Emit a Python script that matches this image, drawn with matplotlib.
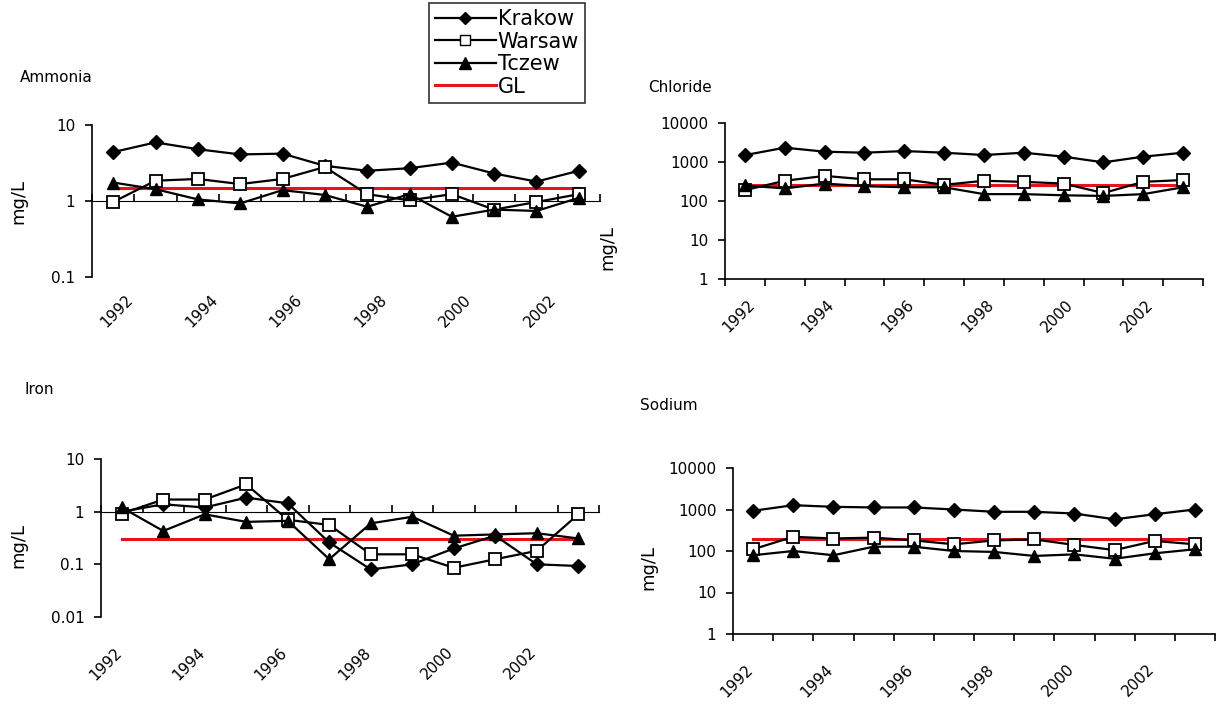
import math
import matplotlib
matplotlib.use("Agg")
import matplotlib.pyplot as plt
import matplotlib.transforms as mtransforms
from matplotlib.ticker import FixedLocator, FuncFormatter, NullFormatter
from matplotlib.lines import Line2D

years = list(range(1992, 2004))
label_years = [1992, 1994, 1996, 1998, 2000, 2002]

# mg/L values
ammonia_krakow = [4.4, 5.9, 4.8, 4.1, 4.2, 2.9, 2.5, 2.7, 3.2, 2.3, 1.8, 2.5]
ammonia_warsaw = [0.97, 1.85, 1.95, 1.67, 1.95, 2.8, 1.23, 1.02, 1.23, 0.77, 0.97, 1.23]
ammonia_tczew = [1.75, 1.43, 1.05, 0.93, 1.39, 1.2, 0.84, 1.23, 0.62, 0.77, 0.74, 1.1]
ammonia_gl = 1.5

chloride_krakow = [1500, 2330, 1840, 1730, 1910, 1730, 1510, 1730, 1370, 980, 1370, 1730]
chloride_warsaw = [190, 330, 440, 360, 360, 260, 330, 310, 280, 160, 310, 345]
chloride_tczew = [250, 210, 280, 240, 225, 225, 150, 150, 140, 135, 150, 225]
chloride_gl = 250

iron_krakow = [1.0, 1.38, 1.2, 1.85, 1.44, 0.26, 0.08, 0.1, 0.2, 0.35, 0.1, 0.093]
iron_warsaw = [0.92, 1.7, 1.7, 3.3, 0.7, 0.56, 0.155, 0.155, 0.086, 0.125, 0.18, 0.89]
iron_tczew = [1.2, 0.43, 0.89, 0.64, 0.67, 0.125, 0.6, 0.8, 0.35, 0.37, 0.39, 0.31]
iron_gl = 0.3

sodium_krakow = [930, 1270, 1160, 1120, 1120, 1000, 880, 880, 800, 580, 770, 1000]
sodium_warsaw = [110, 220, 200, 210, 180, 145, 180, 190, 140, 105, 175, 145]
sodium_tczew = [79, 100, 79, 127, 127, 100, 95, 76, 83, 65, 88, 110]
sodium_gl = 200

plt.rcParams['font.family'] = 'DejaVu Sans'

fig = plt.figure(figsize=(12.18, 7.11), dpi=100)
W, H = 1218.0, 711.0


def make_ax(x0, x1, y0, y1):
    return fig.add_axes([x0 / W, 1 - y1 / H, (x1 - x0) / W, (y1 - y0) / H])


def panel(ax, krakow, warsaw, tczew, gl, ylo, yhi, title, title_xy, ylab_xy, label_pad, label_dx):
    x = list(range(len(years)))
    ax.plot(x, krakow, color='black', lw=1.6, marker='D', ms=7, mfc='black', mec='black', zorder=4)
    ax.plot(x, warsaw, color='black', lw=1.6, marker='s', ms=8, mfc='white', mec='black', mew=1.3, zorder=4)
    ax.plot(x, tczew, color='black', lw=1.6, marker='^', ms=9, mfc='black', mec='black', zorder=4)
    ax.plot([x[0], x[-1]], [gl, gl], color='#e8141a', lw=2.2, zorder=3)

    ax.set_yscale('log')
    ax.set_ylim(ylo, yhi)
    ax.set_xlim(-0.5, len(years) - 0.5)

    decades = []
    v = ylo
    while v <= yhi * 1.001:
        decades.append(v)
        v *= 10
    ax.yaxis.set_major_locator(FixedLocator(decades))
    ax.yaxis.set_minor_locator(FixedLocator([]))
    ax.yaxis.set_major_formatter(FuncFormatter(lambda val, pos: '%g' % val))
    ax.tick_params(axis='y', direction='out', length=5, width=1.2, labelsize=11, colors='black', pad=7)

    for s in ['top', 'right', 'bottom']:
        ax.spines[s].set_visible(False)
    ax.spines['left'].set_linewidth(1.2)

    # year labels well below the plot
    ax.set_xticks([years.index(y) for y in label_years])
    ax.set_xticklabels([str(y) for y in label_years])
    ax.tick_params(axis='x', length=0, labelsize=11, pad=label_pad)
    off = mtransforms.ScaledTranslation(label_dx / 100, 0, fig.dpi_scale_trans)
    for lab in ax.get_xticklabels():
        lab.set_rotation(45)
        lab.set_ha('right')
        lab.set_va('top')
        lab.set_rotation_mode('anchor')
        lab.set_transform(lab.get_transform() + off)

    # category axis crossing at 1 mg/L
    loc = (math.log10(1) - math.log10(ylo)) / (math.log10(yhi) - math.log10(ylo))
    sec = ax.secondary_xaxis(loc)
    sec.set_xticks([i - 0.5 for i in range(len(years) + 1)])
    sec.xaxis.set_major_formatter(NullFormatter())
    sec.tick_params(axis='x', direction='out', length=5, width=1.2)
    sec.spines['bottom'].set_linewidth(1.2)

    fig.text(title_xy[0] / W, 1 - title_xy[1] / H, title, fontsize=11, ha='left', va='center')
    fig.text(ylab_xy[0] / W, 1 - ylab_xy[1] / H, 'mg/L', fontsize=13, rotation=90, ha='center', va='center')


ax1 = make_ax(92, 600, 125, 277)
panel(ax1, ammonia_krakow, ammonia_warsaw, ammonia_tczew, ammonia_gl, 0.1, 10,
      'Ammonia', (20, 78), (18, 202), 11, 12)

ax2 = make_ax(725, 1203, 123, 279)
panel(ax2, chloride_krakow, chloride_warsaw, chloride_tczew, chloride_gl, 1, 10000,
      'Chloride', (648, 88), (607, 248), 13, 2)

ax3 = make_ax(101, 599, 459, 617)
panel(ax3, iron_krakow, iron_warsaw, iron_tczew, iron_gl, 0.01, 10,
      'Iron', (24, 390), (18, 545), 20, -8)

ax4 = make_ax(733, 1215, 468, 634)
panel(ax4, sodium_krakow, sodium_warsaw, sodium_tczew, sodium_gl, 1, 10000,
      'Sodium', (640, 405), (648, 567), 20, -8)

handles = [
    Line2D([], [], color='black', lw=1.6, marker='D', ms=6, mfc='black'),
    Line2D([], [], color='black', lw=1.6, marker='s', ms=7, mfc='white', mec='black'),
    Line2D([], [], color='black', lw=1.6, marker='^', ms=8, mfc='black'),
    Line2D([], [], color='#e8141a', lw=2.2),
]
leg = fig.legend(handles, ['Krakow', 'Warsaw', 'Tczew', 'GL'],
                 loc='upper left', bbox_to_anchor=(429 / W, 1 - 3 / H),
                 frameon=True, fancybox=False, fontsize=15, handlelength=2.9,
                 handletextpad=0.1, labelspacing=0.12, borderpad=0.3, borderaxespad=0)
leg.get_frame().set_edgecolor('black')
leg.get_frame().set_linewidth(1.2)

fig.savefig('out.png', dpi=100, facecolor='white')
